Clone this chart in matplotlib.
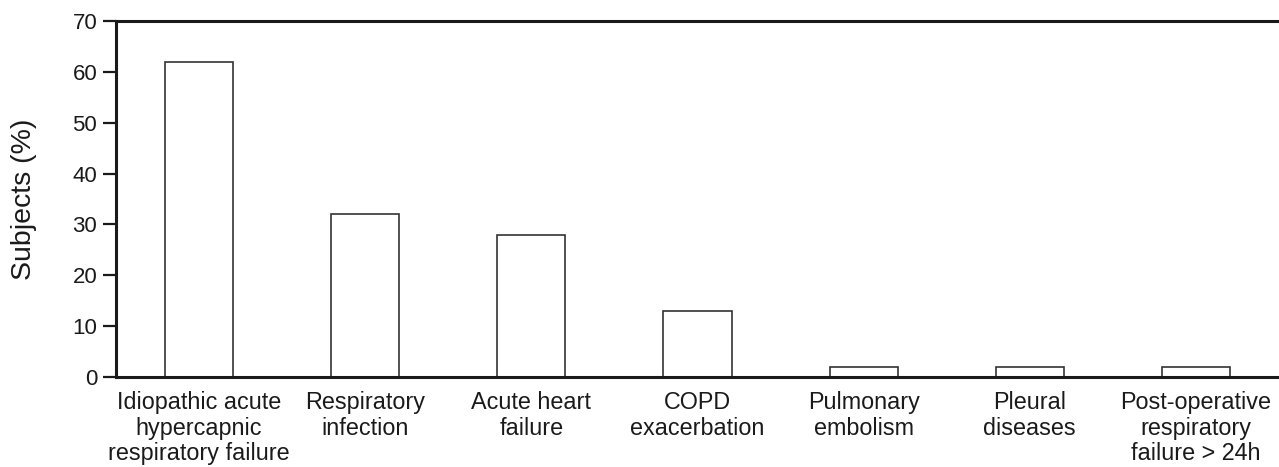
import matplotlib
matplotlib.use("Agg")
import matplotlib.pyplot as plt
import numpy as np

plt.rcParams['font.family'] = ['Liberation Sans', 'DejaVu Sans']

# 数据
categories = [
    "Idiopathic acute\nhypercapnic\nrespiratory failure",
    "Respiratory\ninfection",
    "Acute heart\nfailure",
    "COPD\nexacerbation",
    "Pulmonary\nembolism",
    "Pleural\ndiseases",
    "Post-operative\nrespiratory\nfailure > 24h",
]
subjects_pct = [62, 32, 28, 13, 2, 2, 2]

fig = plt.figure(figsize=(12.79, 4.67), dpi=100)
ax = fig.add_axes([0.0907, 0.1927, 0.9093, 0.7623])

x = np.arange(len(categories))
ax.bar(x, subjects_pct, width=0.41, color="white", edgecolor="#333333", linewidth=1.2)

ax.set_xlim(-0.5, 6.5)
ax.set_ylim(0, 70)
ax.set_yticks(np.arange(0, 71, 10))
ax.set_xticks(x)
ax.set_xticklabels(categories, fontsize=16.8, color="#1a1a1a", linespacing=1.15)
ax.tick_params(axis="x", length=0, pad=10)
ax.tick_params(axis="y", direction="out", length=9.5, width=1.6, labelsize=16,
               colors="#1a1a1a", pad=4)
ax.set_ylabel("Subjects (%)", fontsize=20.5, color="#1a1a1a")
ax.yaxis.set_label_coords(-0.068, 0.5)

for side in ["left", "bottom", "top"]:
    ax.spines[side].set_linewidth(2.2)
    ax.spines[side].set_color("#1a1a1a")
ax.spines["right"].set_visible(False)

fig.savefig("out.png", dpi=100)
